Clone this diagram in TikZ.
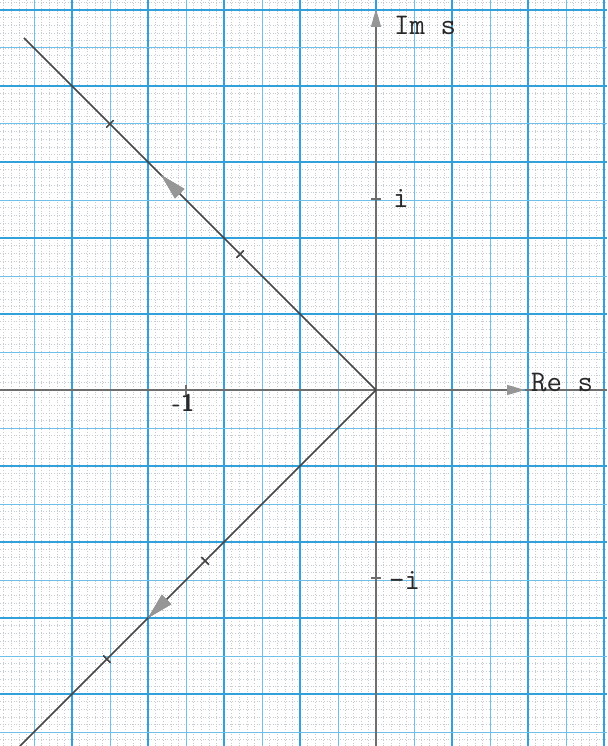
\documentclass[tikz,border=0pt]{standalone}
\usetikzlibrary{arrows.meta,decorations.markings}
\definecolor{gridA}{RGB}{50,160,218}
\definecolor{gridB}{RGB}{110,192,234}
\definecolor{fine}{RGB}{150,165,175}
\definecolor{rayc}{RGB}{70,70,70}
\definecolor{axc}{RGB}{110,110,110}
\definecolor{arrc}{RGB}{150,150,150}
\definecolor{txt}{RGB}{40,40,40}
\tikzset{
  finegrid/.style={draw=fine!55, line width=0.45pt, dash pattern=on 0.9pt off 1.8pt},
  thickgrid/.style={draw=gridA, line width=1.5pt},
  thingrid/.style={draw=gridB, line width=1.0pt},
  ray/.style={draw=rayc, line width=1.5pt},
  axisline/.style={draw=axc, line width=1.1pt},
  axarrow/.style={axisline, -{Triangle[length=18pt,width=10pt,color=arrc]}},
  lab/.style={text=txt, inner sep=0pt, font=\ttfamily\fontsize{30}{30}\selectfont},
  numlab/.style={text=txt, inner sep=0pt, font=\sffamily\bfseries\fontsize{24}{24}\selectfont},
  tickmark/.style={draw=rayc, line width=1.1pt},
  rayarrow/.style={postaction={decorate}, decoration={markings,
     mark=at position #1 with {\arrow[color=arrc]{Triangle[length=26pt,width=13pt]}}}},
  raytick/.style={postaction={decorate}, decoration={markings,
     mark=at position #1 with {\draw[tickmark] (0,-5) -- (0,5);}}}
}
\begin{document}
\begin{tikzpicture}[x=1pt,y=-1pt]
\useasboundingbox (0,0) rectangle (607,746);
\fill[white] (0,0) rectangle (607,746);
\begin{scope}
\clip (0,0) rectangle (607,746);
% fine dotted grid
\foreach \i in {0,...,80} { \draw[finegrid] ({-4+7.6*\i},0) -- ({-4+7.6*\i},746); }
\foreach \i in {0,...,98} { \draw[finegrid] (0,{2.4+7.6*\i}) -- (607,{2.4+7.6*\i}); }
% cm grid
\foreach \k in {-9,-7,...,5} { \draw[thingrid] ({376+38*\k},0) -- ({376+38*\k},746); }
\foreach \k in {-10,-8,...,6} { \draw[thickgrid] ({376+38*\k},0) -- ({376+38*\k},746); }
\foreach \k in {-9,-7,...,9} { \draw[thingrid] (0,{390+38*\k}) -- (607,{390+38*\k}); }
\foreach \k in {-10,-8,...,10} { \draw[thickgrid] (0,{390+38*\k}) -- (607,{390+38*\k}); }
\end{scope}
% axes
\coordinate (O) at (376,390);
\coordinate (Rl) at (0,390);
\coordinate (Rt) at (525,390);
\coordinate (Rr) at (607,390);
\coordinate (Ib) at (376,746);
\coordinate (It) at (376,9);
\draw[axisline] (Rl) -- (O);
\draw[axarrow] (O) -- (Rt);
\draw[axisline] (Rt) -- (Rr);
\draw[axarrow] (Ib) -- (It);
% axis ticks
\coordinate (m1) at (186,390);
\coordinate (pi) at (376,199);
\coordinate (mi) at (376,578);
\draw[axisline] ([yshift=-5pt]m1) -- ([yshift=5pt]m1);
\draw[axisline] ([xshift=-5pt]pi) -- ([xshift=5pt]pi);
\draw[axisline] ([xshift=-5pt]mi) -- ([xshift=5pt]mi);
% rays
\coordinate (A) at (24,38);
\coordinate (B) at (20,746);
\draw[ray, raytick=0.386, raytick=0.756, rayarrow=0.61] (O) -- (A);
\draw[ray, raytick=0.48, raytick=0.756, rayarrow=0.64] (O) -- (B);
% labels
\node[lab, anchor=base west] (imlab) at (394,35) {Im s};
\node[lab, anchor=base west] (ilab) at (393,207) {i};
\node[lab, anchor=base west] (milab) at (389,589) {-i};
\node[lab, anchor=base west] (relab) at (531,391) {Re s};
\node[numlab, anchor=base west] (m1lab) at (172,411) {-1};
\end{tikzpicture}
\end{document}
